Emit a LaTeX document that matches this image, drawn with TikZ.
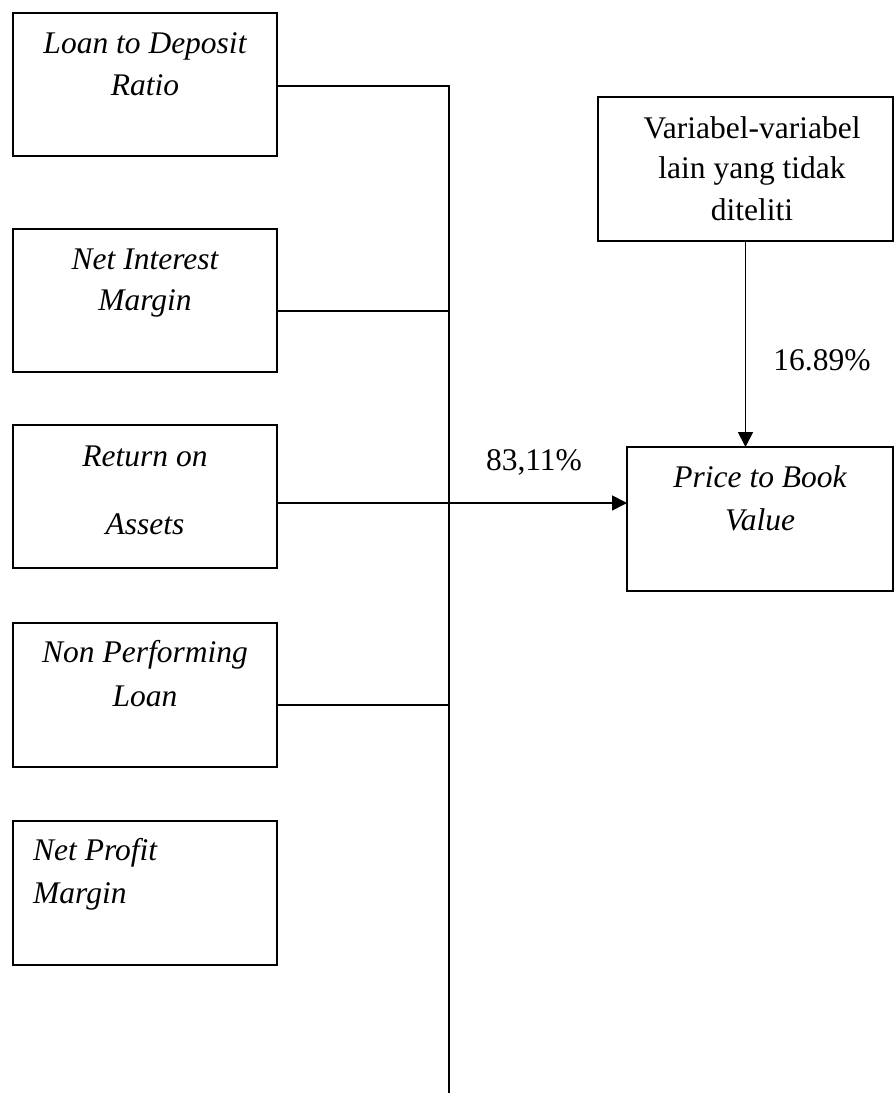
\documentclass[tikz,border=0pt]{standalone}
\usepackage{fontspec}
\setmainfont{Liberation Serif}
\usetikzlibrary{arrows.meta}
\begin{document}
\begin{tikzpicture}[x=1pt,y=-1pt,
  box/.style={draw,line width=1.8pt,inner sep=0pt,outer sep=0pt},
  txt/.style={inner sep=0pt,anchor=base,font=\fontsize{31.5}{38}\selectfont},
  itx/.style={txt,font=\fontsize{31.5}{38}\selectfont\itshape},
  conn/.style={line width=1.3pt},
  arr/.style={line width=1.8pt,-{Triangle[length=15pt,width=15pt]}}]
\useasboundingbox (0,0) rectangle (894,1093);

% independent variables
\node[box,minimum width=264pt,minimum height=143pt] (b1) at (145,84.5) {};
\node[box,minimum width=264pt,minimum height=143pt] (b2) at (145,300.75) {};
\node[box,minimum width=264pt,minimum height=143pt] (b3) at (145,496.75) {};
\node[box,minimum width=264pt,minimum height=144pt] (b4) at (145,695) {};
\node[box,minimum width=264pt,minimum height=144pt] (b5) at (145,893) {};

\node[itx] (b1a) at (145,53) {Loan to Deposit};
\node[itx] (b1b) at (145,95) {Ratio};
\node[itx] (b2a) at (145,269) {Net Interest};
\node[itx] (b2b) at (145,310) {Margin};
\node[itx] (b3a) at (145,466) {Return on};
\node[itx] (b3b) at (145,534) {Assets};
\node[itx] (b4a) at (145,662) {Non Performing};
\node[itx] (b4b) at (145,706) {Loan};
\node[itx,anchor=base west] (b5a) at (33,860) {Net Profit};
\node[itx,anchor=base west] (b5b) at (33,903) {Margin};

% other variables and dependent variable
\node[box,minimum width=295pt,minimum height=144pt] (vr) at (745.5,169) {};
\node[txt] (vra) at (752,138) {Variabel-variabel};
\node[txt] (vrb) at (752,178) {lain yang tidak};
\node[txt] (vrc) at (752,220) {diteliti};

\node[box,minimum width=266pt,minimum height=144pt] (pbv) at (760,519) {};
\node[itx] (pbva) at (760,487) {Price to Book};
\node[itx] (pbvb) at (760,530) {Value};

% bus line joining the left boxes
\coordinate (j1) at (449,86);
\coordinate (j2) at (449,311);
\coordinate (j3) at (449,503);
\coordinate (j4) at (449,705);
\coordinate (busend) at (449,1093);

\draw[conn] (b1.east |- j1) -- (j1) -- (busend);
\draw[conn] (b2.east |- j2) -- (j2);
\draw[conn] (b3.east |- j3) -- (j3);
\draw[conn] (b4.east |- j4) -- (j4);

\draw[arr] (j3) -- (pbv.west |- j3);
\draw[arr] (vr.south) -- (pbv.north -| vr.south);

\node[txt] (p1) at (534,470) {83,11\%};
\node[txt] (p2) at (822,370) {16.89\%};
\end{tikzpicture}
\end{document}
